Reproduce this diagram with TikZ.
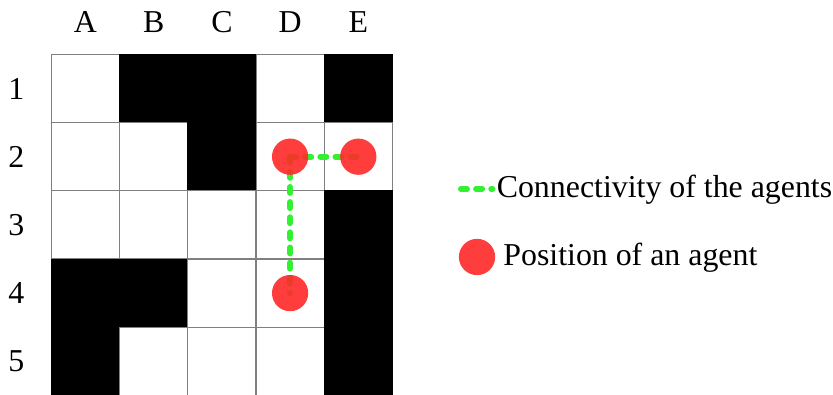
\documentclass[tikz,border=0pt]{standalone}
\usepackage{fontspec}
\setmainfont{Liberation Serif}
\usetikzlibrary{matrix}
\definecolor{agentred}{RGB}{255,40,40}
\definecolor{linkgreen}{RGB}{51,240,51}

\begin{document}
\begin{tikzpicture}[font=\fontsize{16}{19}\selectfont]
 \tikzset{square matrix/.style={
    matrix of nodes,
    nodes in empty cells,
    inner sep=0pt, outer sep=0pt,
    column sep=-\pgflinewidth, row sep=-\pgflinewidth,
    nodes={draw=gray,
      line width=0.5pt,
      minimum size=#1,
      anchor=center,
      inner sep=0pt
    },
  },
  square matrix/.default=1.2cm,
  wall/.style={fill=black, draw=black},
  agent/.style={circle, fill=agentred, fill opacity=0.9, minimum size=0.64cm, inner sep=0pt},
  link/.style={draw=linkgreen, line width=3pt, line cap=round, dash pattern=on 3pt off 4.6pt},
  legend text/.style={anchor=base west, inner sep=0pt}
}
\useasboundingbox (-0.9,-6) rectangle (13.8,0.953);
\matrix[square matrix, anchor=north west] (grid) at (0,0)
{
   & |[wall]| & |[wall]| & & |[wall]| \\
   & & |[wall]| & & \\
   & & & & |[wall]| \\
   |[wall]| & |[wall]| & & & |[wall]| \\
   |[wall]| & & & & |[wall]| \\
};
\foreach \c [count=\i] in {A,B,C,D,E}
  \node (col\c) at ([yshift=0.58cm]grid-1-\i.north) {\c};
\foreach \r in {1,...,5}
  \node (row\r) at ([xshift=-0.62cm]grid-\r-1.west) {\r};
\draw[link] (grid-2-4.center) -- (grid-2-5.center);
\draw[link] (grid-2-4.center) -- (grid-4-4.center);
\foreach \p in {2-4,2-5,4-4}
  \node[agent] (agent\p) at (grid-\p) {};
\coordinate (linkstart) at (7.235,-2.38);
\coordinate (linkend) at (7.79,-2.38);
\node[legend text] (linktext) at (7.86,-2.524) {Connectivity of the agents};
\draw[link] (linkstart) -- (linkend);
\node[agent] (legagent) at (7.518,-3.582) {};
\node[legend text] (agenttext) at (7.976,-3.741) {Position of an agent};
\end{tikzpicture}
\end{document}
